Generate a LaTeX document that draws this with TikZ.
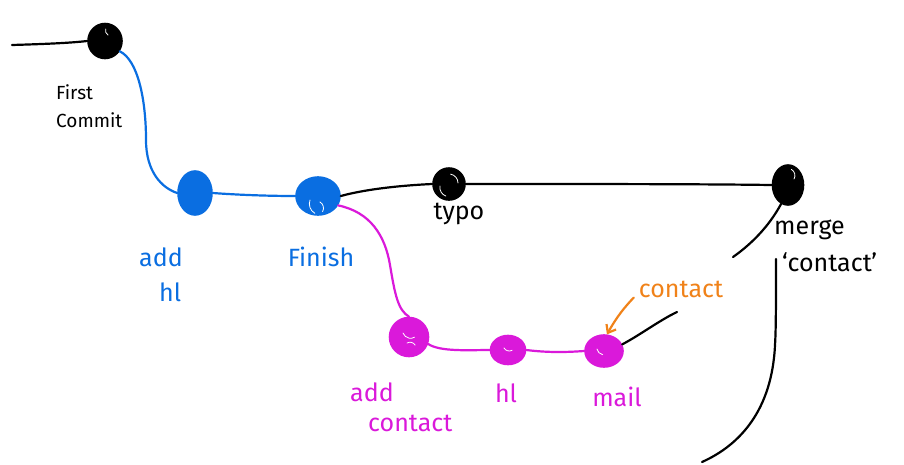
\documentclass[tikz,border=0pt]{standalone}
\usepackage{fontspec}
\setmainfont{Fira Sans}
\usetikzlibrary{shapes.geometric,arrows.meta}
\definecolor{gblue}{RGB}{10,110,225}
\definecolor{gmag}{RGB}{218,25,218}
\definecolor{gorange}{RGB}{240,130,25}
\tikzset{
  commit/.style={ellipse, draw, line width=1.6pt, inner sep=0pt, minimum width=#1},
  link/.style={line width=2.2pt, line cap=round},
  lab/.style={font=\fontsize{25}{35}\selectfont, inner sep=0pt},
  smalllab/.style={font=\fontsize{19}{28}\selectfont, inner sep=0pt},
  shine/.style={white, line width=0.8pt, line cap=round}
}
\begin{document}
\begin{tikzpicture}[x=1pt,y=-1pt]
\useasboundingbox (0,0) rectangle (904,464);
% commits
\node[commit=34pt, minimum height=35pt, fill=black, draw=black] (c1) at (105,41) {};
\node[commit=34pt, minimum height=44pt, fill=gblue, draw=gblue] (c2) at (195,193) {};
\node[commit=44pt, minimum height=38pt, fill=gblue, draw=gblue] (c3) at (318,196) {};
\node[commit=32pt, minimum height=32pt, fill=black, draw=black] (c4) at (449,184) {};
\node[commit=31pt, minimum height=40pt, fill=black, draw=black] (c5) at (788,185) {};
\node[commit=39pt, minimum height=39pt, fill=gmag, draw=gmag] (d1) at (409,337) {};
\node[commit=35pt, minimum height=29pt, fill=gmag, draw=gmag] (d2) at (508,350) {};
\node[commit=38pt, minimum height=32pt, fill=gmag, draw=gmag] (d3) at (604,351) {};
% highlights
\draw[shine] (c1.center) ++(3,-6) arc (120:200:5);
\draw[shine] (c3.center) ++(-8,4) arc (200:120:11);
\draw[shine] (c3.center) ++(2,6) arc (-60:30:7);
\draw[shine] (c4.center) ++(-9,2) arc (190:110:9);
\draw[shine] (c4.center) ++(9,-1) arc (0:-80:9);
\draw[shine] (c5.center) ++(6,-6) arc (30:-60:7);
\draw[shine] (d1.center) ++(-6,-4) arc (160:60:8);
\draw[shine] (d1.center) ++(-2,6) arc (-120:-30:6);
\draw[shine] (d2.center) ++(-4,-2) arc (150:60:6);
\draw[shine] (d3.center) ++(-7,-2) arc (170:100:7);
% connectors
\coordinate (start) at (12,45);
\draw[link] (start) .. controls (45,44) and (70,43) .. (c1.west);
\draw[link, gblue] (c1.-35) .. controls (138,60) and (146,100) .. (146,140)
   .. controls (146,172) and (162,188) .. (c2.west);
\draw[link, gblue] (c2.east) .. controls (240,195) and (270,196) .. (c3.west);
\draw[link] (c3.east) .. controls (370,188) and (410,185) .. (c4.west);
\draw[link] (c4.east) .. controls (600,184) and (700,184) .. (c5.west);
\draw[link, gmag] (c3.-25) .. controls (370,212) and (385,235) .. (390,265)
   .. controls (395,295) and (398,310) .. (d1.north);
\draw[link, gmag] (d1.-20) .. controls (440,352) and (470,350) .. (d2.west);
\draw[link, gmag] (d2.east) .. controls (550,353) and (570,352) .. (d3.west);
\coordinate (gapA) at (677,312);
\coordinate (gapB) at (733,257);
\draw[link] (d3.20) .. controls (640,335) and (660,320) .. (gapA);
\draw[link] (gapB) .. controls (750,245) and (768,228) .. (c5.-110);
\coordinate (tailA) at (776,259);
\coordinate (tailB) at (702,462);
\draw[link] (tailA) .. controls (776,300) and (776,330) .. (775,345)
   .. controls (772,410) and (740,445) .. (tailB);
% labels
\node[smalllab, align=left, anchor=west] (l1) at (56,106) {First\\Commit};
\node[lab, align=left, anchor=west, text=gblue] (l2) at (139,275) {add\\\hspace*{20pt}hl};
\node[lab, text=gblue] (l3) at (321,257) {Finish};
\node[lab] (l4) at (459,214) {typo};
\node[lab, align=left, anchor=west, font=\fontsize{25}{37}\selectfont] (l5) at (774,246) {merge\\\hspace*{8pt}`contact'};
\node[lab, align=left, anchor=west, text=gmag, font=\fontsize{25}{30}\selectfont] (l6) at (350,407) {add\\\hspace*{18pt}contact};
\node[lab, text=gmag] (l7) at (506,393) {hl};
\node[lab, text=gmag] (l8) at (617,397) {mail};
\node[lab, text=gorange] (l9) at (681,289) {contact};
\draw[link, gorange, -{Straight Barb[length=7pt,width=11pt]}] (l9.south west) ++(-5,0)
   .. controls (620,312) and (614,322) .. (d3.80);
\end{tikzpicture}
\end{document}
